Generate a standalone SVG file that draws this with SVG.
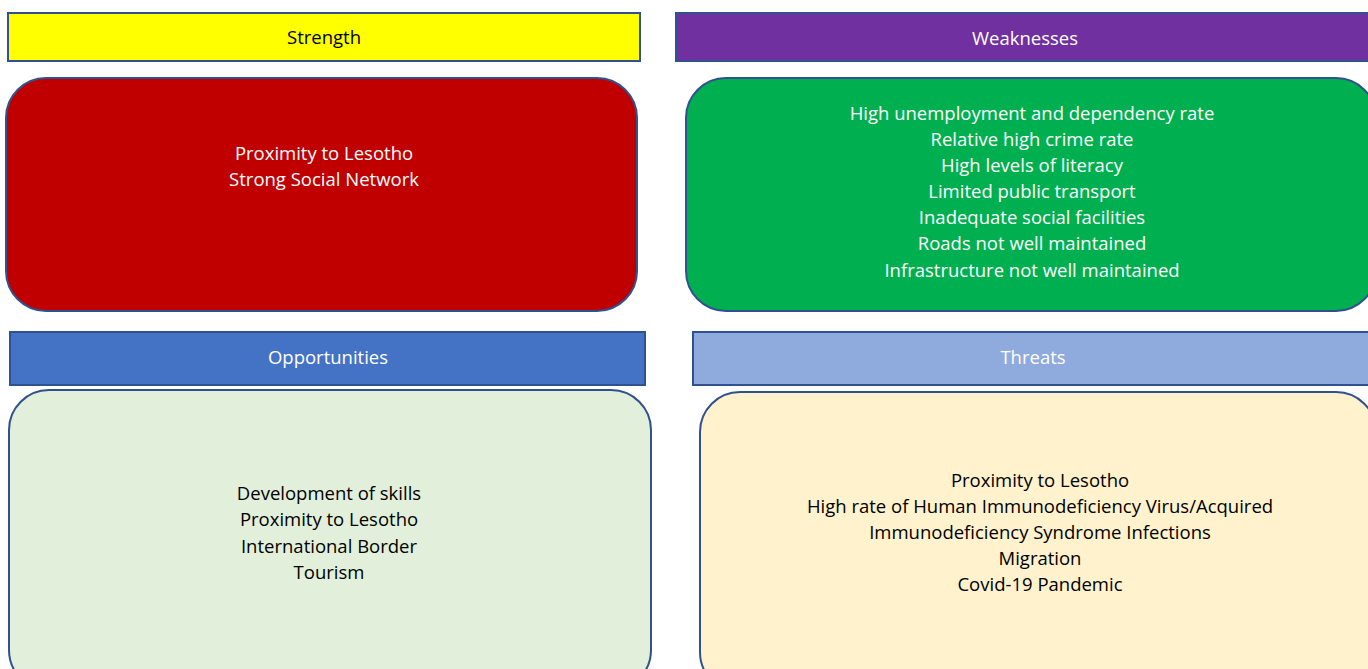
<svg xmlns="http://www.w3.org/2000/svg" width="1368" height="669" viewBox="0 0 1368 669">
  <style>
    .hdr { stroke: #2F528F; stroke-width: 2; }
    .box { stroke: #2F528F; stroke-width: 2; }
    text { font-family: "Open Sans", "Noto Sans", sans-serif; font-size: 18.5px; text-anchor: middle; dominant-baseline: central; }
    .light { fill: #FFFFFF; }
    .dark { fill: #000000; }
  </style>
  <rect width="1368" height="669" fill="#FFFFFF"/>

  <!-- Strengths -->
  <g id="strength-header">
    <rect class="hdr" x="8" y="13" width="632" height="48" fill="#FFFF00"/>
    <text class="dark" x="324" y="36">Strength</text>
  </g>
  <g id="strength-body">
    <rect class="box" x="6" y="78" width="631" height="233" rx="40" ry="40" fill="#C00000"/>
    <text class="light" x="324" y="152">Proximity to Lesotho</text>
    <text class="light" x="324" y="178">Strong Social Network</text>
  </g>

  <!-- Weaknesses -->
  <g id="weakness-header">
    <rect class="hdr" x="676" y="13" width="700" height="48" fill="#7030A0"/>
    <text class="light" x="1025" y="37">Weaknesses</text>
  </g>
  <g id="weakness-body">
    <rect class="box" x="686" y="78" width="690" height="233" rx="40" ry="40" fill="#00B050"/>
    <text class="light" x="1032" y="112">High unemployment and dependency rate</text>
    <text class="light" x="1032" y="138">Relative high crime rate</text>
    <text class="light" x="1032" y="164">High levels of literacy</text>
    <text class="light" x="1032" y="190">Limited public transport</text>
    <text class="light" x="1032" y="216">Inadequate social facilities</text>
    <text class="light" x="1032" y="242">Roads not well maintained</text>
    <text class="light" x="1032" y="269">Infrastructure not well maintained</text>
  </g>

  <!-- Opportunities -->
  <g id="opportunities-header">
    <rect class="hdr" x="10" y="332" width="635" height="53" fill="#4472C4"/>
    <text class="light" x="328" y="356">Opportunities</text>
  </g>
  <g id="opportunities-body">
    <rect class="box" x="9" y="390" width="642" height="300" rx="40" ry="40" fill="#E2EFDA"/>
    <text class="dark" x="329" y="492">Development of skills</text>
    <text class="dark" x="329" y="518">Proximity to Lesotho</text>
    <text class="dark" x="329" y="545">International Border</text>
    <text class="dark" x="329" y="571">Tourism</text>
  </g>

  <!-- Threats -->
  <g id="threats-header">
    <rect class="hdr" x="693" y="332" width="683" height="53" fill="#8FAADC"/>
    <text class="light" x="1033" y="356">Threats</text>
  </g>
  <g id="threats-body">
    <rect class="box" x="700" y="392" width="676" height="300" rx="40" ry="40" fill="#FFF2CC"/>
    <text class="dark" x="1040" y="479">Proximity to Lesotho</text>
    <text class="dark" x="1040" y="505">High rate of Human Immunodeficiency Virus/Acquired</text>
    <text class="dark" x="1040" y="531">Immunodeficiency Syndrome Infections</text>
    <text class="dark" x="1040" y="557">Migration</text>
    <text class="dark" x="1040" y="583">Covid-19 Pandemic</text>
  </g>

  <!-- no connectors in this chart -->
  <g id="connectors"/>
</svg>
